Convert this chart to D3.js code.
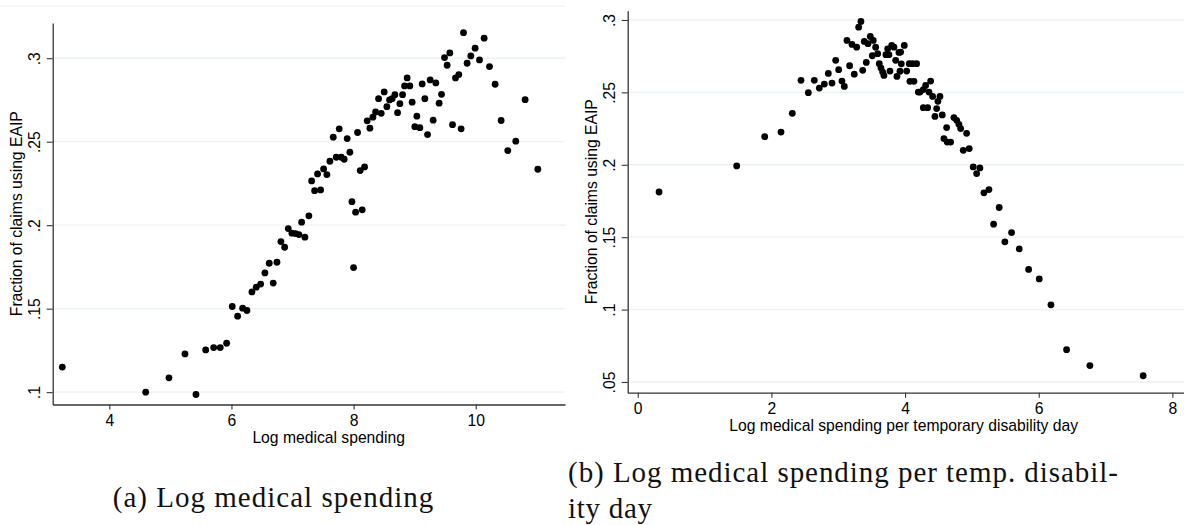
<!DOCTYPE html>
<html>
<head>
<meta charset="utf-8">
<script src="https://cdn.jsdelivr.net/npm/d3@7"></script>
<style>
  body { margin: 0; background: #fff; }
  svg { display: block; }
  .ax text { font-family: "Liberation Sans", Arial, sans-serif; font-size: 15.7px; fill: #000; }
  .cap { font-family: "Liberation Serif", "Times New Roman", serif; font-size: 29px; fill: #111; }
</style>
</head>
<body>
<svg id="fig" width="1184" height="525"></svg>
<script>
// panel (a): log medical spending
const aX = [3.23,4.596,4.977,5.239,5.419,5.578,5.709,5.817,5.921,6.013,6.101,6.183,6.254,6.336,6.406,6.478,6.548,6.619,6.684,6.745,
  6.81,6.871,6.93,6.99,7.05,7.105,7.149,7.203,7.268,7.973,8.033,8.141,8.0,7.313,7.362,7.46,7.41,7.509,7.563,7.612,
  7.667,7.716,7.765,7.797,7.846,7.895,7.939,8.065,8.108,8.18,8.223,8.267,8.316,8.36,8.409,8.452,8.501,8.545,8.589,8.632,
  8.676,8.72,8.758,8.802,8.835,8.877,8.921,8.959,9.036,9.003,9.085,9.123,9.167,9.211,9.254,9.303,9.347,9.401,9.44,9.489,
  9.532,9.576,9.62,9.669,9.723,9.761,9.8,9.859,9.92,9.99,10.062,10.138,10.226,10.318,10.416,10.525,10.656,10.809,11.017];
const aY = [.115,.100,.1086,.1229,.0986,.1253,.1267,.1267,.1293,.1513,.1455,.1503,.1489,.160,.1629,.1647,.1714,.1772,.1653,.1778,
  .1902,.1868,.198,.1952,.195,.1944,.2018,.1928,.2056,.2141,.2078,.2092,.1746,.2265,.2207,.2211,.2307,.2337,.2303,.2383,
  .2527,.2407,.2577,.2407,.2395,.2519,.2437,.2555,.2327,.2349,.2625,.2581,.2647,.2678,.2758,.267,.2798,.271,.275,.2758,
  .2782,.2674,.2728,.2782,.2834,.2882,.2834,.2737,.2653,.259,.2584,.2846,.2758,.2543,.287,.2629,.2852,.2731,.2784,.3004,
  .2958,.3032,.2602,.2882,.2902,.2577,.3153,.297,.3014,.306,.299,.312,.295,.2844,.2627,.2447,.2503,.2752,.2335];

// panel (b): log medical spending per temporary disability day
const bX = [0.319,1.481,1.9,2.144,2.313,2.443,2.553,2.642,2.717,2.792,2.852,2.907,2.962,3.007,3.056,3.091,3.131,3.171,3.206,3.24,
  3.276,3.306,3.34,3.366,3.39,3.42,3.445,3.48,3.51,3.524,3.56,3.59,3.614,3.64,3.665,3.684,3.714,3.74,3.759,3.774,
  3.8,3.834,3.86,3.879,3.909,3.924,3.944,3.934,3.989,4.024,4.063,4.113,4.173,4.073,4.133,4.383,4.308,4.198,4.223,4.273,
  4.358,4.413,4.522,4.492,4.273,4.338,4.473,4.447,4.557,4.622,4.731,4.772,4.806,4.832,4.921,4.582,4.631,4.682,4.871,4.96,
  5.02,5.12,5.071,5.18,5.255,5.409,5.325,5.594,5.494,5.708,5.849,6.008,6.183,6.417,6.766,7.563];
const bY = [.1812,.1992,.2194,.2226,.2355,.2583,.2498,.2583,.253,.2557,.2631,.2564,.2721,.2657,.2578,.2541,.2859,.2684,.2831,.2626,
  .2812,.295,.299,.2652,.2852,.2707,.2836,.2886,.2753,.2859,.2812,.2767,.2698,.2668,.264,.2617,.276,.2801,.276,.2647,
  .2824,.2812,.2721,.261,.2776,.2646,.2697,.2778,.2824,.2647,.2698,.2698,.2698,.2576,.2576,.2578,.2548,.2502,.2502,.2519,
  .2502,.2472,.2472,.2438,.2394,.2394,.2388,.2334,.2344,.2257,.2326,.2307,.2279,.225,.2217,.2181,.2157,.2157,.21,.2112,
  .1985,.1978,.1939,.1806,.1829,.1705,.159,.1532,.1468,.1419,.1277,.1212,.1033,.0723,.0613,.0543];

const aXTicks = [4, 6, 8, 10];
const aYTicks = [0.1, 0.15, 0.2, 0.25, 0.3];
const aYLabels = [".1", ".15", ".2", ".25", ".3"];
const bXTicks = [0, 2, 4, 6, 8];
const bYTicks = [0.05, 0.1, 0.15, 0.2, 0.25, 0.3];
const bYLabels = [".05", ".1", ".15", ".2", ".25", ".3"];

const yTitle = "Fraction of claims using EAIP";

const svg = d3.select("#fig");

function panel(cfg) {
  const x = d3.scaleLinear().domain(cfg.xDom).range([cfg.left, cfg.right]);
  const y = d3.scaleLinear().domain(cfg.yDom).range([cfg.bottom, cfg.top]);
  const g = svg.append("g").attr("class", "ax");

  // grid
  g.selectAll(".grid").data(cfg.yTicks).enter().append("line")
    .attr("x1", cfg.left).attr("x2", cfg.right)
    .attr("y1", d => y(d)).attr("y2", d => y(d))
    .attr("stroke", "#eaf2f3").attr("stroke-width", 1.3);

  // axes
  const xa = g.append("g").attr("transform", `translate(0,${cfg.bottom})`)
    .call(d3.axisBottom(x).tickValues(cfg.xTicks).tickSize(5).tickPadding(5).tickSizeOuter(0));
  const ya = g.append("g").attr("transform", `translate(${cfg.left},0)`)
    .call(d3.axisLeft(y).tickValues(cfg.yTicks).tickSize(6).tickSizeOuter(0)
      .tickFormat((d, i) => cfg.yLabels[i]));
  [xa, ya].forEach(a => {
    a.select(".domain").attr("stroke", "#333").attr("stroke-width", 1.3);
    a.selectAll(".tick line").attr("stroke", "#333").attr("stroke-width", 1.1);
    a.selectAll("text").attr("font-size", null).attr("font-family", null);
  });
  ya.selectAll(".tick text")
    .attr("x", null).attr("dy", null)
    .attr("text-anchor", "middle")
    .attr("transform", "translate(-13,0) rotate(-90)");
  xa.selectAll(".tick text").attr("dy", "0.71em");

  // titles
  g.append("text").attr("text-anchor", "middle")
    .attr("x", cfg.xTitleX).attr("y", cfg.bottom + 38.5)
    .text(cfg.xTitle);
  g.append("text").attr("text-anchor", "middle")
    .attr("transform", `translate(${cfg.left - 30.5},${(cfg.top + cfg.bottom) / 2}) rotate(-90)`)
    .text(yTitle);

  // points
  svg.append("g").selectAll("circle").data(cfg.xs).enter().append("circle")
    .attr("cx", d => x(d)).attr("cy", (d, i) => y(cfg.ys[i]))
    .attr("r", 3.4).attr("fill", "#000");
}

// faint frame line at top of panel (a)
svg.append("line").attr("x1", 0).attr("x2", 565).attr("y1", 6).attr("y2", 6)
  .attr("stroke", "#edf3f3").attr("stroke-width", 1.3);

panel({ xs: aX, ys: aY, xDom: [3.073, 11.462], yDom: [0.0926, 0.3211],
  left: 52.7, right: 565, top: 23, bottom: 404.5,
  xTicks: aXTicks, yTicks: aYTicks, yLabels: aYLabels,
  xTitle: "Log medical spending", xTitleX: 328.7 });

panel({ xs: bX, ys: bY, xDom: [-0.15, 8.174], yDom: [0.0426, 0.3064],
  left: 627.7, right: 1184, top: 10.7, bottom: 392.7,
  xTicks: bXTicks, yTicks: bYTicks, yLabels: bYLabels,
  xTitle: "Log medical spending per temporary disability day", xTitleX: 903.7 });

// captions
svg.append("text").attr("class", "cap").attr("x", 112.7).attr("y", 506.7)
  .attr("textLength", 320.6).attr("lengthAdjust", "spacing")
  .text("(a) Log medical spending");
svg.append("text").attr("class", "cap").attr("x", 568).attr("y", 481.7)
  .attr("textLength", 550).attr("lengthAdjust", "spacing")
  .text("(b) Log medical spending per temp. disabil-");
svg.append("text").attr("class", "cap").attr("x", 568).attr("y", 517.5)
  .attr("textLength", 84).attr("lengthAdjust", "spacing")
  .text("ity day");
</script>
</body>
</html>
